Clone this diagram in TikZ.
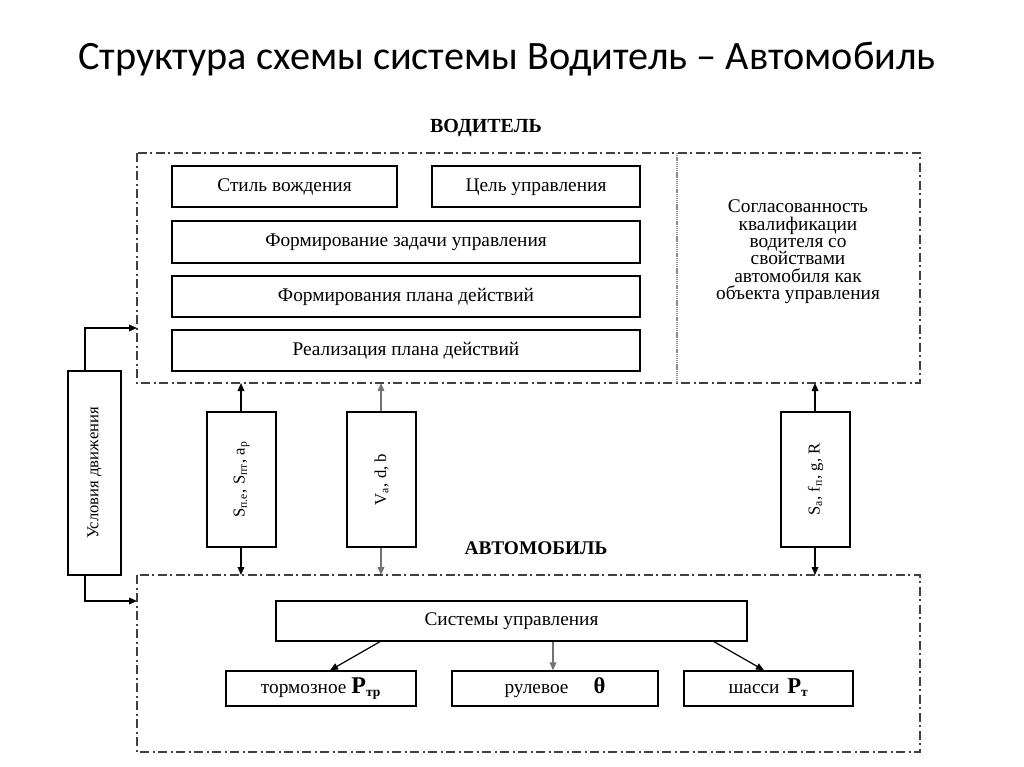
\documentclass[tikz,border=0pt]{standalone}
\usepackage{fontspec}
\setmainfont{Liberation Serif}
\newfontfamily\titlefont{Carlito}
\usetikzlibrary{arrows.meta}
\begin{document}
\begin{tikzpicture}[x=0.75pt,y=-0.75pt,
  box/.style={draw,line width=1pt,inner sep=0pt,text height=11pt,text depth=4pt,font=\fontsize{14.5}{16}\selectfont},
  vbox/.style={draw,line width=0.9pt,inner sep=0pt,font=\fontsize{12}{14}\selectfont},
  frame/.style={draw=black!75,line width=0.8pt,dash pattern=on 7pt off 2.5pt on 1.5pt off 2.5pt},
  arr/.style={line width=0.9pt,-{Triangle[length=6pt,width=5pt]}},
  garr/.style={arr,draw=black!55,-{Triangle[length=6pt,width=5pt]}}
]
\useasboundingbox (0,0) rectangle (1024,767);
\fill[white] (0,0) rectangle (1024,767);
\node[font=\titlefont\fontsize{30.2}{34}\selectfont] (title) at (507,59) {Структура схемы системы Водитель – Автомобиль};

% Driver
\node[font=\bfseries\fontsize{15}{17}\selectfont] (drvlbl) at (486,128) {ВОДИТЕЛЬ};
\draw[frame] (137,153) rectangle (920,383);
\coordinate (dtop) at (677,153);
\coordinate (dbot) at (677,383);
\draw[draw=black!45,line width=0.8pt,dash pattern=on 1pt off 0.6pt] (dtop) -- (dbot);
\node[box,minimum width=225*0.75pt,minimum height=41*0.75pt] (style) at (284.5,186.5) {Стиль вождения};
\node[box,minimum width=208*0.75pt,minimum height=41*0.75pt] (goal) at (536,186.5) {Цель управления};
\node[box,minimum width=468*0.75pt,minimum height=42*0.75pt] (task) at (406,242) {Формирование задачи управления};
\node[box,minimum width=468*0.75pt,minimum height=41*0.75pt] (plan) at (406,296.5) {Формирования плана действий};
\node[box,minimum width=468*0.75pt,minimum height=41*0.75pt] (real) at (406,350.5) {Реализация плана действий};
\node[align=center,font=\fontsize{14.5}{13}\selectfont] (agree) at (798,252) {Согласованность\\квалификации\\водителя со\\свойствами\\автомобиля как\\объекта управления};

% Conditions
\node[vbox,minimum width=53*0.75pt,minimum height=204*0.75pt] (cond) at (94.5,473) {};
\node[rotate=90,font=\fontsize{12.5}{14}\selectfont] (condt) at (94.5,473) {Условия движения};
\coordinate (cin1) at (137,328);
\coordinate (cin2) at (137,601);
\draw[arr] (cond.north -| 85,0) |- (cin1);
\draw[arr] (cond.south -| 85,0) |- (cin2);

% Vertical signal boxes
\node[vbox,minimum width=69*0.75pt,minimum height=135*0.75pt] (s1) at (241.5,479.5) {};
\node[rotate=90,font=\fontsize{12.5}{14}\selectfont] (s1t) at (241.5,479.5) {S\textsubscript{п.е}, S\textsubscript{пт}, a\textsubscript{р}};
\node[vbox,minimum width=69*0.75pt,minimum height=135*0.75pt] (s2) at (381.5,479.5) {};
\node[rotate=90,font=\fontsize{12.5}{14}\selectfont] (s2t) at (381.5,479.5) {V\textsubscript{а}, d, b};
\node[vbox,minimum width=69*0.75pt,minimum height=135*0.75pt] (s3) at (815.5,479.5) {};
\node[rotate=90,font=\fontsize{12.5}{14}\selectfont] (s3t) at (815.5,479.5) {S\textsubscript{а}, f\textsubscript{п}, g, R};

\coordinate (u1) at (241,383); \coordinate (d1) at (241,575);
\coordinate (u2) at (381,383); \coordinate (d2) at (381,575);
\coordinate (u3) at (815,383); \coordinate (d3) at (815,575);
\draw[arr] (s1.north -| u1) -- (u1);
\draw[arr] (s1.south -| d1) -- (d1);
\draw[garr] (s2.north -| u2) -- (u2);
\draw[garr] (s2.south -| d2) -- (d2);
\draw[arr] (s3.north -| u3) -- (u3);
\draw[arr] (s3.south -| d3) -- (d3);

% Car
\node[font=\bfseries\fontsize{14.5}{16}\selectfont] (carlbl) at (536,548) {АВТОМОБИЛЬ};
\draw[frame] (137,575) rectangle (920,752);
\node[box,minimum width=471*0.75pt,minimum height=40*0.75pt] (sys) at (511.5,621) {Системы управления};
\node[box,minimum width=190*0.75pt,minimum height=35*0.75pt] (brake) at (321,688.5) {тормозное {\fontsize{18}{18}\selectfont\bfseries P}\textsubscript{\bfseries тр}};
\node[box,minimum width=206*0.75pt,minimum height=35*0.75pt] (steer) at (555,688.5) {рулевое\hspace{1.3em}{\fontsize{17}{17}\selectfont\bfseries θ}};
\node[box,minimum width=169*0.75pt,minimum height=35*0.75pt] (chas) at (768.5,688.5) {шасси\hspace{0.4em}{\fontsize{17}{17}\selectfont\bfseries P}\textsubscript{\bfseries т}};
\draw[arr] (sys.south -| 380,0) -- (brake.north -| 330,0);
\draw[garr] (sys.south -| 553,0) -- (steer.north -| 553,0);
\draw[arr] (sys.south -| 714,0) -- (chas.north -| 764,0);
\end{tikzpicture}
\end{document}
